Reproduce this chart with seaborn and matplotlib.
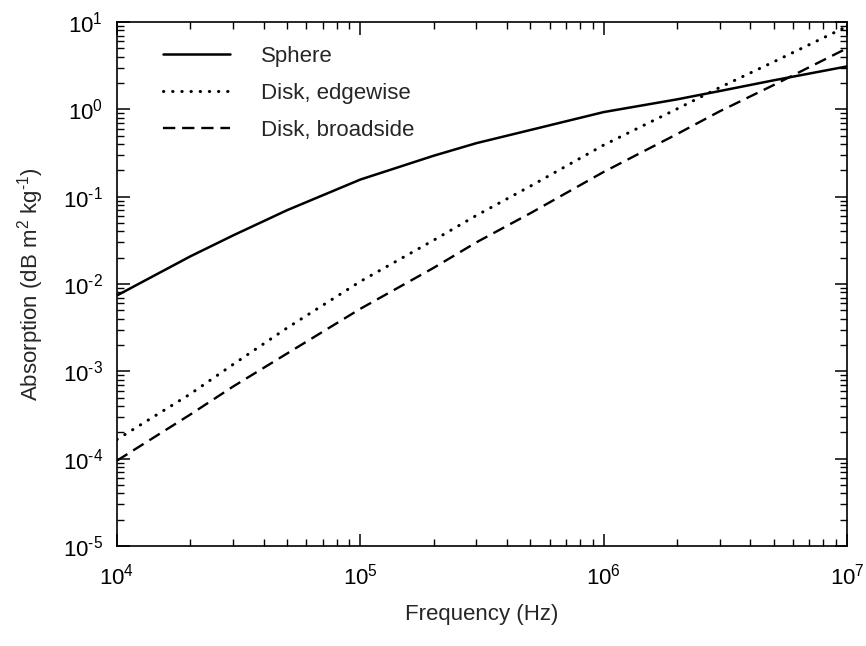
import numpy as np
import pandas as pd
import matplotlib
matplotlib.use("Agg")
import matplotlib.pyplot as plt
import seaborn as sns
from matplotlib.ticker import LogLocator, FuncFormatter, NullFormatter

# Data
frequency = [1e4, 2e4, 3e4, 5e4, 1e5, 2e5, 3e5, 5e5, 1e6, 2e6, 3e6, 5e6, 1e7]
sphere = [0.0074, 0.0207, 0.036, 0.070, 0.157, 0.294, 0.41, 0.58, 0.93, 1.30, 1.62, 2.15, 3.1]
disk_edgewise = [1.66e-4, 5.5e-4, 1.2e-3, 3.14e-3, 0.0107, 0.0317, 0.061, 0.132, 0.39, 1.01, 1.78, 3.5, 8.9]
disk_broadside = [9.5e-5, 3.2e-4, 6.7e-4, 1.6e-3, 5.2e-3, 0.0153, 0.030, 0.0647, 0.192, 0.52, 0.95, 1.9, 5.0]
series_names = ["Sphere", "Disk, edgewise", "Disk, broadside"]

sns.set_theme(style="ticks")
plt.rcParams["font.family"] = ["Liberation Sans", "DejaVu Sans"]
plt.rcParams["mathtext.fontset"] = "custom"
plt.rcParams["mathtext.rm"] = "Liberation Sans"
plt.rcParams["mathtext.it"] = "Liberation Sans"
plt.rcParams["mathtext.bf"] = "Liberation Sans"

fig = plt.figure(figsize=(8.66, 6.46), dpi=100)
ax = fig.add_axes([117 / 866, 1 - 546 / 646, 730 / 866, 524 / 646])

styles = {
    "Sphere": dict(lw=1.8, dashes=None),
    "Disk, edgewise": dict(lw=2.2, dashes=(0.1, 2.9)),
    "Disk, broadside": dict(lw=1.7, dashes=(5.2, 2.9)),
}
values = {"Sphere": sphere, "Disk, edgewise": disk_edgewise, "Disk, broadside": disk_broadside}

for name in series_names:
    df = pd.DataFrame({"f": frequency, "a": values[name]})
    sns.lineplot(data=df, x="f", y="a", ax=ax, color="black",
                 lw=styles[name]["lw"], label=name, estimator=None, sort=True)
    line = ax.lines[-1]
    if styles[name]["dashes"] is not None:
        line.set_dashes(styles[name]["dashes"])
        if name == "Disk, edgewise":
            line.set_dash_capstyle("round")

ax.set_xscale("log")
ax.set_yscale("log")
ax.set_xlim(1e4, 1e7)
ax.set_ylim(1e-5, 1e1)


def pow_fmt(v, pos):
    e = int(round(np.log10(v)))
    if e < 0:
        return r"$10^{\text{-}%d}$" % (-e)
    return r"$10^{%d}$" % e


ax.xaxis.set_major_locator(LogLocator(base=10, numticks=20))
ax.yaxis.set_major_locator(LogLocator(base=10, numticks=20))
ax.xaxis.set_minor_locator(LogLocator(base=10, subs=np.arange(2, 10), numticks=20))
ax.yaxis.set_minor_locator(LogLocator(base=10, subs=np.arange(2, 10), numticks=20))
ax.xaxis.set_major_formatter(FuncFormatter(pow_fmt))
ax.yaxis.set_major_formatter(FuncFormatter(pow_fmt))
ax.xaxis.set_minor_formatter(NullFormatter())
ax.yaxis.set_minor_formatter(NullFormatter())

ax.tick_params(which="both", direction="in", top=True, right=True, colors="black")
ax.tick_params(which="major", length=9, width=1.1, labelsize=16)
ax.tick_params(which="minor", length=5, width=1.0)
ax.tick_params(axis="x", which="major", pad=13)
ax.tick_params(axis="y", which="major", pad=10)
for s in ax.spines.values():
    s.set_linewidth(1.2)
    s.set_color("black")

ax.set_xlabel("Frequency (Hz)", fontsize=16, labelpad=10)
ax.set_ylabel("Absorption (dB m$^{2}$ kg$^{\\text{-}1}$)", fontsize=16, labelpad=12)

leg = ax.legend(loc="upper left", frameon=False, fontsize=16,
                handlelength=3.0, handletextpad=1.4, labelspacing=0.72,
                borderaxespad=0, borderpad=0,
                bbox_to_anchor=(46 / 730, 1 - 24 / 524))

fig.savefig("out.png", dpi=100)
